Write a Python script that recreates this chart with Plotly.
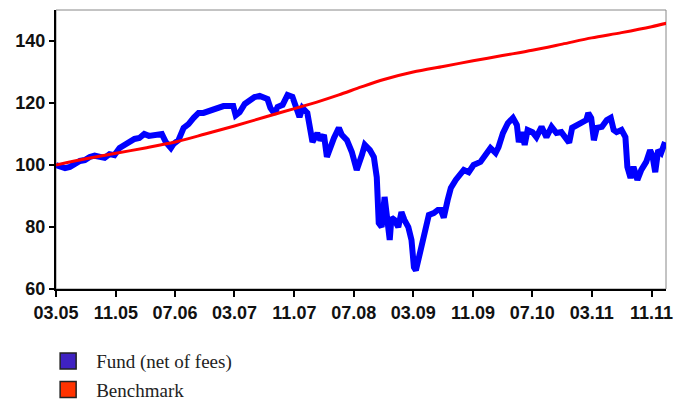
import plotly.graph_objects as go

fund_dates = [
    "2005-03-01", "2005-03-17", "2005-04-07", "2005-04-27", "2005-05-17", "2005-06-07", "2005-06-27",
    "2005-07-17", "2005-08-06", "2005-08-27", "2005-09-16", "2005-10-06", "2005-10-26", "2005-11-16",
    "2005-12-06", "2005-12-26", "2006-01-16", "2006-02-05", "2006-02-25", "2006-03-16", "2006-04-06",
    "2006-04-26", "2006-05-08", "2006-05-24", "2006-06-14", "2006-06-25", "2006-07-15", "2006-08-05",
    "2006-08-25", "2006-09-15", "2006-10-05", "2006-10-25", "2006-11-15", "2006-12-05", "2006-12-25",
    "2007-01-15", "2007-02-04", "2007-02-24", "2007-03-06", "2007-03-22", "2007-04-12", "2007-05-02",
    "2007-05-22", "2007-06-12", "2007-07-02", "2007-07-14", "2007-07-26", "2007-08-12", "2007-08-24",
    "2007-09-14", "2007-10-04", "2007-10-16", "2007-10-24", "2007-11-22", "2007-12-04", "2007-12-24",
    "2008-01-14", "2008-02-03", "2008-02-15", "2008-03-01", "2008-03-13", "2008-04-11", "2008-05-01",
    "2008-05-13", "2008-06-03", "2008-06-23", "2008-07-13", "2008-08-03", "2008-08-15", "2008-09-05",
    "2008-09-21", "2008-10-03", "2008-10-11", "2008-10-23", "2008-11-04", "2008-11-12", "2008-11-25",
    "2008-12-02", "2008-12-14", "2008-12-30", "2009-01-12", "2009-01-24", "2009-02-09", "2009-02-22",
    "2009-03-04", "2009-03-12", "2009-03-24", "2009-04-10", "2009-04-22", "2009-05-04", "2009-05-24",
    "2009-06-10", "2009-06-22", "2009-07-04", "2009-07-20", "2009-08-02", "2009-08-22", "2009-09-12",
    "2009-09-24", "2009-10-14", "2009-11-03", "2009-12-01", "2009-12-21", "2010-01-11", "2010-02-01",
    "2010-02-13", "2010-03-03", "2010-03-23", "2010-04-13", "2010-04-29", "2010-05-07", "2010-05-19",
    "2010-05-31", "2010-06-12", "2010-07-02", "2010-07-18", "2010-08-08", "2010-08-28", "2010-09-18",
    "2010-10-08", "2010-10-28", "2010-11-17", "2010-11-29", "2010-12-11", "2011-01-01", "2011-01-22",
    "2011-02-07", "2011-02-15", "2011-02-27", "2011-03-10", "2011-03-22", "2011-04-12", "2011-05-02",
    "2011-05-18", "2011-05-30", "2011-06-11", "2011-07-01", "2011-07-17", "2011-07-25", "2011-08-07",
    "2011-08-19", "2011-09-04", "2011-09-20", "2011-10-10", "2011-10-26", "2011-11-04", "2011-11-16",
    "2011-11-28", "2011-12-10", "2011-12-26",
]
fund_values = [
    100.0, 99.4, 99.0, 99.4, 100.3, 101.3, 101.6,
    102.6, 103.0, 102.6, 102.3, 103.5, 103.2, 105.5,
    106.5, 107.1, 108.4, 108.7, 110.0, 109.4, 109.7,
    109.7, 110.0, 107.4, 105.5, 106.8, 108.0, 112.0,
    113.2, 115.2, 116.8, 116.8, 117.4, 117.7, 118.7,
    119.0, 119.0, 119.0, 116.0, 117.0, 119.7, 121.0,
    121.9, 122.3, 121.6, 121.3, 118.4, 116.5, 118.7,
    119.4, 122.6, 122.3, 122.0, 115.5, 118.4, 116.8,
    107.4, 110.3, 108.0, 109.7, 102.6, 108.7, 112.0,
    109.7, 108.0, 104.2, 98.4, 103.2, 106.5, 104.8,
    102.6, 96.0, 81.3, 80.0, 89.7, 84.5, 75.8,
    83.0, 82.3, 80.0, 84.8, 82.3, 80.0, 75.8,
    67.0, 66.0, 70.3, 75.8, 79.0, 83.9, 84.5,
    85.5, 85.5, 83.0, 88.7, 92.6, 95.2, 97.4,
    98.4, 97.7, 100.0, 101.0, 103.2, 105.5, 103.9,
    105.8, 110.3, 113.5, 115.2, 112.9, 107.4, 110.6,
    106.5, 111.3, 110.6, 109.0, 112.3, 109.0, 112.3,
    110.3, 110.6, 108.7, 107.2, 112.0, 112.9, 113.9,
    114.5, 116.8, 115.2, 108.0, 112.0, 112.3, 114.5,
    115.2, 111.3, 110.6, 111.3, 109.0, 99.4, 95.8,
    99.4, 95.2, 98.4, 101.0, 104.8, 103.2, 97.7,
    104.8, 103.9, 107.4,
]

bench_dates = [
    "2005-03-01", "2005-07-01", "2005-11-01", "2006-03-01", "2006-07-01", "2006-11-01",
    "2007-03-01", "2007-07-01", "2007-11-01", "2008-02-01", "2008-05-01", "2008-08-01",
    "2008-11-01", "2009-03-01", "2009-07-01", "2009-11-01", "2010-03-01",
    "2010-07-01", "2010-11-01", "2011-03-01", "2011-07-01", "2011-11-01", "2011-12-31",
]
bench_values = [
    100.0, 102.0, 103.8, 105.5, 107.4, 110.0,
    112.6, 115.4, 118.2, 120.3, 122.6, 125.2,
    127.6, 130.0, 131.8, 133.6, 135.3,
    137.0, 139.0, 141.0, 142.7, 144.6, 145.7,
]

series_names = ["Fund (net of fees)", "Benchmark"]
legend_colors = ["#3F22C2", "#FF3300"]

fig = go.Figure()
fig.add_trace(go.Scatter(x=fund_dates, y=fund_values, mode="lines",
                         line=dict(color="#0000FF", width=6), showlegend=False))
fig.add_trace(go.Scatter(x=bench_dates, y=bench_values, mode="lines",
                         line=dict(color="#FF0000", width=3, shape="spline", smoothing=0.8),
                         showlegend=False))
for i, (name, col) in enumerate(zip(series_names, legend_colors)):
    fig.add_trace(go.Scatter(x=[None], y=[None], mode="markers", name=name,
                             legendgroup=f"g{i}",
                             marker=dict(symbol="square", size=16, color=col,
                                         line=dict(color="#222222", width=1.5))))

fig.add_shape(type="rect", xref="paper", yref="paper", x0=0, x1=1, y0=0, y1=1,
              line=dict(color="#888888", width=1), layer="below")

fig.update_layout(
    width=681, height=401,
    autosize=False,
    margin=dict(l=56, r=8, t=10, b=112),
    paper_bgcolor="white", plot_bgcolor="white",
    showlegend=True,
    legend=dict(x=-0.026, y=0.147, xref="paper", yref="container",
                xanchor="left", yanchor="top",
                itemwidth=46,
                font=dict(family="Liberation Serif, DejaVu Serif, serif", size=19, color="#222222"),
                tracegroupgap=1, bgcolor="rgba(0,0,0,0)"),
    xaxis=dict(type="date", range=["2005-03-01", "2011-12-30"],
               tick0="2005-03-01", dtick="M8", tickformat="%m.%y",
               showgrid=False, zeroline=False,
               showline=True, linecolor="black", linewidth=2,
               ticks="outside", ticklen=6, tickwidth=1.5, tickcolor="black",
               tickfont=dict(family="Liberation Sans, Arial, sans-serif", size=18, color="#111111",
                             weight="bold"),
               fixedrange=True),
    yaxis=dict(range=[60, 150], tickvals=[60, 80, 100, 120, 140],
               showgrid=False, zeroline=False,
               showline=True, linecolor="black", linewidth=2,
               ticks="outside", ticklen=5, tickwidth=1.5, tickcolor="black",
               tickfont=dict(family="Liberation Sans, Arial, sans-serif", size=18, color="#111111",
                             weight="bold"),
               fixedrange=True),
    font=dict(family="Liberation Sans, Arial, sans-serif"),
)

fig.write_html("out.html", config={"displayModeBar": False},
               post_script="document.body.style.margin='0';document.body.style.overflow='hidden';")
